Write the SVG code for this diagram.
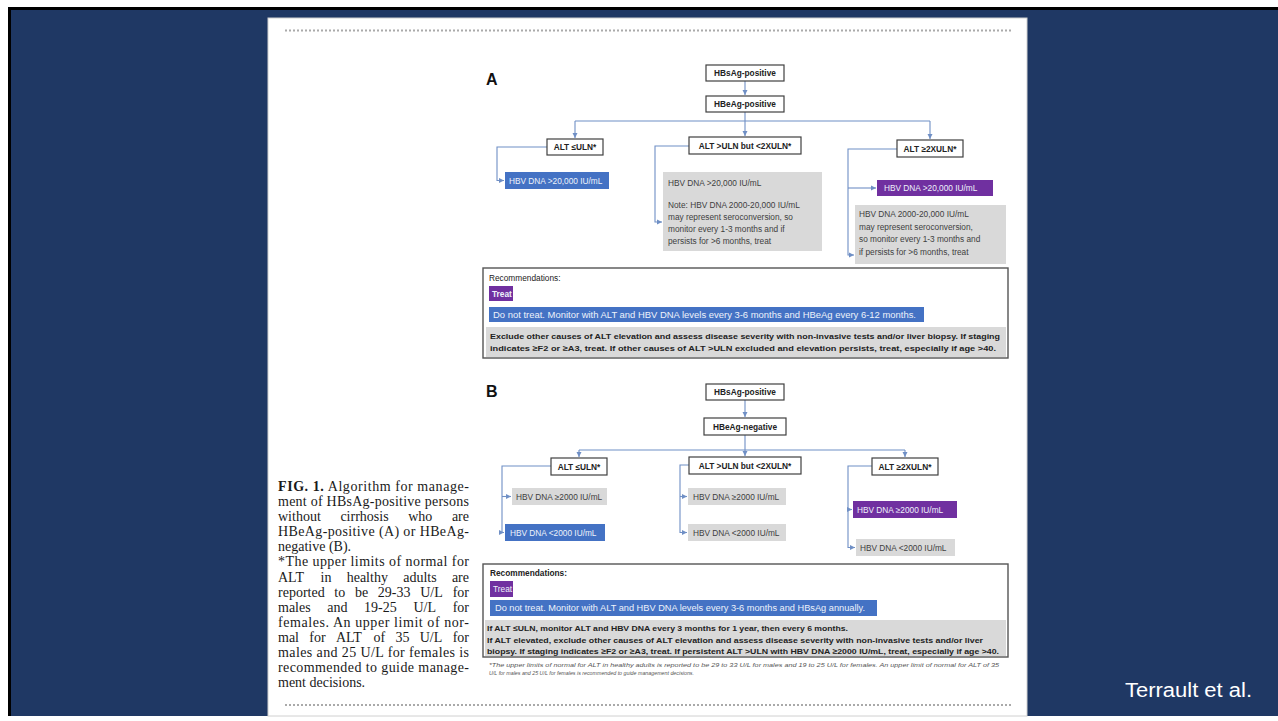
<svg xmlns="http://www.w3.org/2000/svg" width="1278" height="721" viewBox="0 0 1278 721">
<defs>
<marker id="arr" markerUnits="userSpaceOnUse" markerWidth="6" markerHeight="6" refX="5" refY="3" orient="auto">
<path d="M0,0.5 L5,3 L0,5.5 Z" fill="#6f8fc5"/>
</marker>
</defs>
<style>
.box{fill:#fff;stroke:#404040;stroke-width:1.2}
.lbl{font-family:"Liberation Sans",Arial,sans-serif;font-size:8.3px;font-weight:bold;fill:#222;text-anchor:middle}
.blue{fill:#4472c4}
.purple{fill:#7030a0}
.grey{fill:#d9d9d9}
.wt{font-family:"Liberation Sans",Arial,sans-serif;font-size:8.3px;fill:#eef2fb}
.gt{font-family:"Liberation Sans",Arial,sans-serif;font-size:8.3px;fill:#404040}
.rb{font-family:"Liberation Sans",Arial,sans-serif;font-size:7.8px;font-weight:bold;fill:#222}
.rec{fill:#fff;stroke:#555;stroke-width:1.4}
.con{fill:none;stroke:#6f8fc5;stroke-width:1.1}
.cap{font-family:"Liberation Serif","Times New Roman",serif;font-size:14px;fill:#1a1a1a}
.dots{stroke:#aaa;stroke-width:2;stroke-dasharray:2 2}
.panel{font-family:"Liberation Sans",Arial,sans-serif;font-size:16px;font-weight:bold;fill:#111}
.fn{font-family:"Liberation Sans",Arial,sans-serif;font-size:6px;font-style:italic;fill:#555}
</style>
<rect x="0" y="0" width="1278" height="721" fill="#ffffff"/>
<rect x="8" y="7" width="1270" height="709" fill="#000000"/>
<rect x="11" y="10" width="1267" height="706" fill="#1f3864"/>
<rect x="268" y="18" width="759" height="698" fill="#ffffff" stroke="#d0d0d0" stroke-width="1"/>
<line class="dots" x1="285" y1="30.5" x2="1012" y2="30.5"/>
<line class="dots" x1="285" y1="705" x2="1012" y2="705"/>
<text x="1125" y="697" font-family="Liberation Sans, Arial, sans-serif" font-size="20" fill="#ffffff" textLength="127" lengthAdjust="spacingAndGlyphs">Terrault et al.</text>

<g id="caption">
<text class="cap" x="278" y="491" textLength="191" lengthAdjust="spacing"><tspan font-weight="bold">FIG. 1.</tspan> Algorithm for manage-</text>
<text class="cap" x="278" y="506" textLength="191" lengthAdjust="spacing">ment of HBsAg-positive persons</text>
<text class="cap" y="521"><tspan x="278">without</tspan><tspan x="340.4">cirrhosis</tspan><tspan x="408.2">who</tspan><tspan x="469" text-anchor="end">are</tspan></text>
<text class="cap" x="278" y="536" textLength="191" lengthAdjust="spacing">HBeAg-positive (A) or HBeAg-</text>
<text class="cap" x="278" y="551">negative (B).</text>
<text class="cap" x="278" y="566" textLength="191" lengthAdjust="spacing">*The upper limits of normal for</text>
<text class="cap" y="582"><tspan x="278">ALT</tspan><tspan x="320.5">in</tspan><tspan x="346.7">healthy</tspan><tspan x="403.2">adults</tspan><tspan x="469" text-anchor="end">are</tspan></text>
<text class="cap" y="597"><tspan x="278">reported</tspan><tspan x="334.3">to</tspan><tspan x="354.9">be</tspan><tspan x="377.8">29-33</tspan><tspan x="420.2">U/L</tspan><tspan x="469" text-anchor="end">for</tspan></text>
<text class="cap" y="612"><tspan x="278">males</tspan><tspan x="327.3">and</tspan><tspan x="364.1">19-25</tspan><tspan x="413.4">U/L</tspan><tspan x="469" text-anchor="end">for</tspan></text>
<text class="cap" x="278" y="627" textLength="191" lengthAdjust="spacing">females. An upper limit of nor-</text>
<text class="cap" y="642"><tspan x="278">mal</tspan><tspan x="309.3">for</tspan><tspan x="335.9">ALT</tspan><tspan x="373.4">of</tspan><tspan x="395.4">35</tspan><tspan x="419.7">U/L</tspan><tspan x="469" text-anchor="end">for</tspan></text>
<text class="cap" x="278" y="657" textLength="191" lengthAdjust="spacing">males and 25 U/L for females is</text>
<text class="cap" x="278" y="672" textLength="191" lengthAdjust="spacing">recommended to guide manage-</text>
<text class="cap" x="278" y="687">ment decisions.</text>
</g>

<g id="connectors">
<path class="con" d="M745,81 V95" marker-end="url(#arr)"/>
<path class="con" d="M745,112 V121 M575,121 H930"/>
<path class="con" d="M575,121 V138" marker-end="url(#arr)"/>
<path class="con" d="M745,121 V136" marker-end="url(#arr)"/>
<path class="con" d="M930,121 V139" marker-end="url(#arr)"/>
<path class="con" d="M547,147 H497 V180.5 H504" marker-end="url(#arr)"/>
<path class="con" d="M689,146 H655 V222 H662" marker-end="url(#arr)"/>
<path class="con" d="M897,149 H848 V255 H854" marker-end="url(#arr)"/>
<path class="con" d="M848,188 H876" marker-end="url(#arr)"/>

<path class="con" d="M745,400 V417" marker-end="url(#arr)"/>
<path class="con" d="M745,435 V450 M579,450 H905"/>
<path class="con" d="M579,450 V457" marker-end="url(#arr)"/>
<path class="con" d="M745,450 V456" marker-end="url(#arr)"/>
<path class="con" d="M905,450 V457" marker-end="url(#arr)"/>
<path class="con" d="M551,466 H502 V532.5 H504" marker-end="url(#arr)"/>
<path class="con" d="M502,496.5 H511" marker-end="url(#arr)"/>
<path class="con" d="M689,465 H680 V532.5 H687" marker-end="url(#arr)"/>
<path class="con" d="M680,496.5 H687" marker-end="url(#arr)"/>
<path class="con" d="M872,466 H848 V547.5 H855" marker-end="url(#arr)"/>
<path class="con" d="M848,509.5 H852" marker-end="url(#arr)"/>
</g>

<text class="panel" x="486" y="85">A</text>
<g id="a-hbsag"><rect class="box" x="706" y="65" width="78" height="16"/><text class="lbl" x="745" y="76">HBsAg-positive</text></g>
<g id="a-hbeag"><rect class="box" x="706" y="96" width="78" height="16"/><text class="lbl" x="745" y="107">HBeAg-positive</text></g>
<g id="a-alt1"><rect class="box" x="547" y="139" width="56" height="16"/><text class="lbl" x="575" y="150">ALT ≤ULN*</text></g>
<g id="a-alt2"><rect class="box" x="689" y="137" width="112" height="17"/><text class="lbl" x="745" y="148.5">ALT &gt;ULN but &lt;2XULN*</text></g>
<g id="a-alt3"><rect class="box" x="897" y="140" width="66" height="17"/><text class="lbl" x="930" y="151.5">ALT ≥2XULN*</text></g>
<g id="a-dna1"><rect class="blue" x="505" y="172" width="104" height="17"/><text class="wt" x="509" y="183.5">HBV DNA &gt;20,000 IU/mL</text></g>
<g id="a-dna2"><rect class="grey" x="663" y="172" width="159" height="79"/>
<text class="gt" x="668" y="186">HBV DNA &gt;20,000 IU/mL</text>
<text class="gt" x="668" y="208">Note: HBV DNA 2000-20,000 IU/mL</text>
<text class="gt" x="668" y="220">may represent seroconversion, so</text>
<text class="gt" x="668" y="232">monitor every 1-3 months and if</text>
<text class="gt" x="668" y="244">persists for &gt;6 months, treat</text></g>
<g id="a-dna3"><rect class="purple" x="877" y="180" width="116" height="16"/><text class="wt" x="884" y="191">HBV DNA &gt;20,000 IU/mL</text></g>
<g id="a-dna4"><rect class="grey" x="855" y="205" width="151" height="59"/>
<text class="gt" x="859" y="217">HBV DNA 2000-20,000 IU/mL</text>
<text class="gt" x="859" y="229.5">may represent seroconversion,</text>
<text class="gt" x="859" y="242">so monitor every 1-3 months and</text>
<text class="gt" x="859" y="254.5">if persists for &gt;6 months, treat</text></g>

<g id="a-recs">
<rect class="rec" x="483" y="268" width="525" height="90"/>
<text class="gt" x="489" y="281" style="fill:#222">Recommendations:</text>
<rect class="purple" x="489" y="286" width="24" height="15"/>
<text class="wt" x="492" y="296.5" font-weight="bold">Treat</text>
<rect class="blue" x="489" y="307" width="435" height="15"/>
<text class="wt" x="493" y="317.5" textLength="423" lengthAdjust="spacingAndGlyphs">Do not treat. Monitor with ALT and HBV DNA levels every 3-6 months and HBeAg every 6-12 months.</text>
<rect class="grey" x="486" y="327" width="520" height="30"/>
<text class="rb" x="490" y="339" textLength="510" lengthAdjust="spacingAndGlyphs">Exclude other causes of ALT elevation and assess disease severity with non-invasive tests and/or liver biopsy. If staging</text>
<text class="rb" x="490" y="351" textLength="506" lengthAdjust="spacingAndGlyphs">indicates ≥F2 or ≥A3, treat. If other causes of ALT &gt;ULN excluded and elevation persists, treat, especially if age &gt;40.</text>
</g>

<text class="panel" x="486" y="397">B</text>
<g id="b-hbsag"><rect class="box" x="706" y="384" width="78" height="16"/><text class="lbl" x="745" y="395">HBsAg-positive</text></g>
<g id="b-hbeag"><rect class="box" x="704" y="418" width="82" height="17"/><text class="lbl" x="745" y="429.5">HBeAg-negative</text></g>
<g id="b-alt1"><rect class="box" x="551" y="458" width="56" height="17"/><text class="lbl" x="579" y="469.5">ALT ≤ULN*</text></g>
<g id="b-alt2"><rect class="box" x="689" y="457" width="112" height="17"/><text class="lbl" x="745" y="468.5">ALT &gt;ULN but &lt;2XULN*</text></g>
<g id="b-alt3"><rect class="box" x="872" y="458" width="66" height="17"/><text class="lbl" x="905" y="469.5">ALT ≥2XULN*</text></g>
<g id="b-dna1"><rect class="grey" x="512" y="488" width="95" height="17"/><text class="gt" x="516" y="499.5">HBV DNA ≥2000 IU/mL</text></g>
<g id="b-dna2"><rect class="blue" x="505" y="524" width="100" height="17"/><text class="wt" x="510" y="535.5">HBV DNA &lt;2000 IU/mL</text></g>
<g id="b-dna3"><rect class="grey" x="688" y="488" width="98" height="17"/><text class="gt" x="693" y="499.5">HBV DNA ≥2000 IU/mL</text></g>
<g id="b-dna4"><rect class="grey" x="688" y="524" width="98" height="17"/><text class="gt" x="693" y="535.5">HBV DNA &lt;2000 IU/mL</text></g>
<g id="b-dna5"><rect class="purple" x="853" y="501" width="104" height="17"/><text class="wt" x="857" y="512.5">HBV DNA ≥2000 IU/mL</text></g>
<g id="b-dna6"><rect class="grey" x="856" y="539" width="99" height="17"/><text class="gt" x="860" y="550.5">HBV DNA &lt;2000 IU/mL</text></g>

<g id="b-recs">
<rect class="rec" x="483" y="564" width="525" height="93"/>
<text class="gt" x="490" y="576" font-weight="bold" style="fill:#222">Recommendations:</text>
<rect class="purple" x="490" y="581" width="23" height="16"/>
<text class="wt" x="493" y="591.5">Treat</text>
<rect class="blue" x="490" y="600" width="387" height="16"/>
<text class="wt" x="495" y="611" textLength="370" lengthAdjust="spacingAndGlyphs">Do not treat. Monitor with ALT and HBV DNA levels every 3-6 months and HBsAg annually.</text>
<rect class="grey" x="485" y="620" width="521" height="36"/>
<text class="rb" x="487" y="631" textLength="361" lengthAdjust="spacingAndGlyphs">If ALT ≤ULN, monitor ALT and HBV DNA every 3 months for 1 year, then every 6 months.</text>
<text class="rb" x="487" y="642.5" textLength="496" lengthAdjust="spacingAndGlyphs">If ALT elevated, exclude other causes of ALT elevation and assess disease severity with non-invasive tests and/or liver</text>
<text class="rb" x="487" y="654" textLength="512" lengthAdjust="spacingAndGlyphs">biopsy. If staging indicates ≥F2 or ≥A3, treat. If persistent ALT &gt;ULN with HBV DNA ≥2000 IU/mL, treat, especially if age &gt;40.</text>
</g>
<g id="footnote">
<text class="fn" x="489" y="667" textLength="510" lengthAdjust="spacingAndGlyphs">*The upper limits of normal for ALT in healthy adults is reported to be 29 to 33 U/L for males and 19 to 25 U/L for females. An upper limit of normal for ALT of 35</text>
<text class="fn" x="489" y="675" textLength="205" lengthAdjust="spacingAndGlyphs">U/L for males and 25 U/L for females is recommended to guide management decisions.</text>
</g>
</svg>
